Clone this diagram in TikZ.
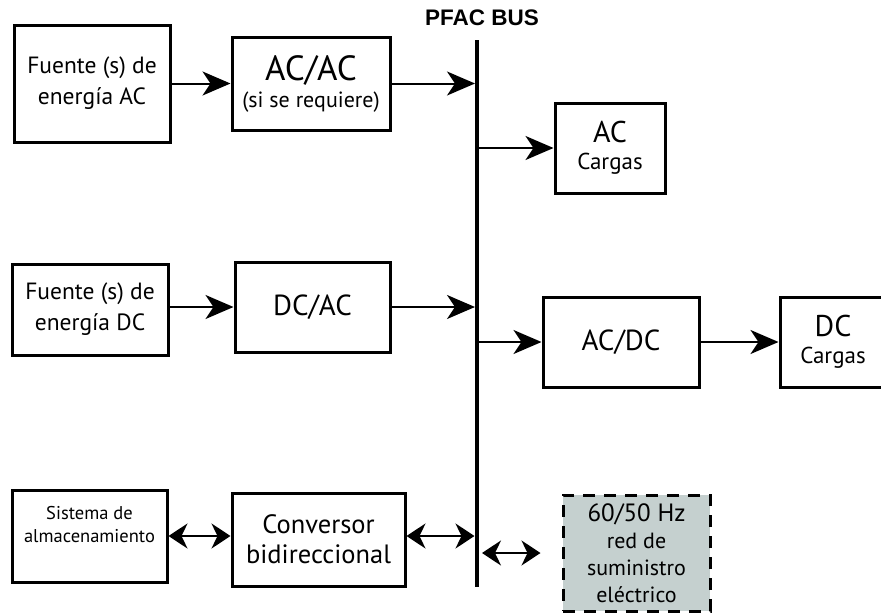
\documentclass[tikz,border=0pt]{standalone}
\usepackage{fontspec}
\setmainfont{PT Sans}
\newfontfamily\hfont{Liberation Sans}
\usetikzlibrary{arrows.meta}
\definecolor{gridfill}{RGB}{197,208,207}
\newcommand{\fsz}[2]{\fontsize{#1}{#2}\selectfont}
\begin{document}
\begin{tikzpicture}[x=1pt,y=-1pt,
  blk/.style={draw,line width=3pt,inner sep=0pt,align=center},
  arr/.style={line width=2pt,-{Stealth[length=28pt,width=24pt,inset=8pt]}},
  darr/.style={line width=2pt,{Stealth[length=19pt,width=25pt,inset=6pt]}-{Stealth[length=19pt,width=25pt,inset=6pt]}}]
\fill[white] (0,0) rectangle (881,613);
\useasboundingbox (0,0) rectangle (881,613);
% bus
\coordinate (bt) at (477,40);
\coordinate (bb) at (477,587);
\draw[line width=4.5pt] (bt) -- (bb);
\node[font=\hfont\bfseries\fsz{22.5}{24}] (lbl) at (482,18) {PFAC BUS};
% blocks
\node[blk,minimum width=156pt,minimum height=117pt,font=\fsz{23.5}{31}] (fac) at (92,83.5) {Fuente (s) de\\energía AC};
\node[blk,minimum width=158pt,minimum height=93pt,font=\fsz{22}{27}] (acac) at (311,83.5) {{\fsz{35}{27}AC/AC}\\(si se requiere)};
\node[blk,minimum width=110pt,minimum height=90pt,font=\fsz{23}{27}] (acl) at (610,148) {{\fsz{30}{27}AC}\\Cargas};
\node[blk,minimum width=156pt,minimum height=91pt,font=\fsz{23.5}{31}] (fdc) at (90,309.5) {Fuente (s) de\\energía DC};
\node[blk,minimum width=155pt,minimum height=90pt,font=\fsz{29}{31}] (dcac) at (312.5,307) {DC/AC};
\node[blk,minimum width=156pt,minimum height=90pt,font=\fsz{29}{31}] (acdc) at (621,342) {AC/DC};
\node[blk,minimum width=106pt,minimum height=90pt,font=\fsz{23}{27}] (dcl) at (833,342) {{\fsz{30}{27}DC}\\Cargas};
\node[blk,minimum width=155pt,minimum height=92pt,font=\fsz{18.5}{23}] (sis) at (89.5,536) {Sistema de\\almacenamiento\\\mbox{}};
\node[blk,minimum width=173pt,minimum height=93pt,font=\fsz{26.5}{30}] (conv) at (318.5,539.5) {Conversor\\bidireccional};
\node[blk,dashed,dash pattern=on 12pt off 9pt,fill=gridfill,minimum width=147pt,minimum height=116pt,font=\fsz{22}{27}] (grid) at (636.5,553) {{\fsz{25}{27}60/50 Hz}\\red de\\suministro\\eléctrico};
% connectors
\draw[arr] (fac.east |- acac.west) -- (acac.west);
\draw[arr,shorten >=2pt] (acac.east) -- (acac.east -| bt);
\draw[arr] (bt |- acl.west) -- (acl.west);
\draw[arr] (fdc.east |- dcac.west) -- (dcac.west);
\draw[arr,shorten >=2pt] (dcac.east) -- (dcac.east -| bt);
\draw[arr] (bt |- acdc.west) -- (acdc.west);
\draw[arr] (acdc.east) -- (dcl.west);
\draw[darr] (sis.east) -- (sis.east -| conv.west);
\draw[darr,shorten >=2.5pt] (sis.east -| conv.east) -- (sis.east -| bt);
\draw[darr] ([xshift=5pt]bt |- grid.west) -- ([xshift=-21pt]grid.west);
\end{tikzpicture}
\end{document}
